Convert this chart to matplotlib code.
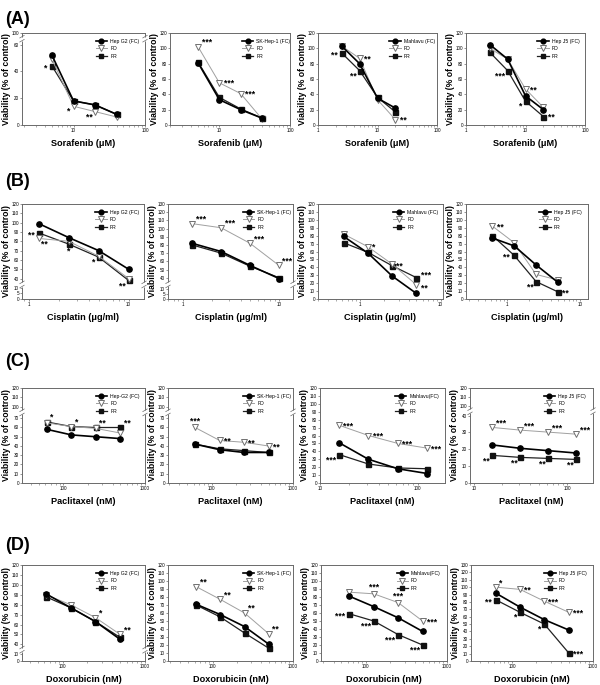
import numpy as np
import matplotlib
matplotlib.use('Agg')
import matplotlib.pyplot as plt
from matplotlib.lines import Line2D
from matplotlib.ticker import FixedLocator, FixedFormatter, LogLocator, NullFormatter

plt.rcParams['font.family'] = ['Liberation Sans', 'DejaVu Sans']

# ---------------- DATA ----------------
row_tags = ['(A)', '(B)', '(C)', '(D)']
drug_labels = ['Sorafenib (μM)', 'Cisplatin (μg/ml)', 'Paclitaxel (nM)', 'Doxorubicin (nM)']
series_names = ['FC', 'FD', 'FR']

legend_A = ['Hep G2 (FC)', 'SK-Hep-1 (FC)', 'Mahlavu (FC)', 'Hep J5 (FC)']
legend_B = ['Hep G2 (FC)', 'SK-Hep-1 (FC)', 'Mahlavu (FC)', 'Hep J5 (FC)']
legend_C = ['Hep-G2 (FC)', 'SK-Hep-1 (FC)', 'Mahlavu(FC)', 'Hep J5 (FC)']
legend_D = ['Hep G2 (FC)', 'SK-Hep-1 (FC)', 'Mahlavu(FC)', 'Hep J5 (FC)']

# Sorafenib
sor_doses_hepg2 = [5, 10, 20, 40]
sor_doses_skhep1 = [5, 10, 20, 40]
sor_doses_mahlavu = [2.5, 5, 10, 20]
sor_doses_hepj5 = [2.5, 5, 10, 20]
sor_hepg2_fc = [52, 18, 15, 8]
sor_hepg2_fd = [49, 14, 10, 6]
sor_hepg2_fr = [44, 18, 15, 8]
sor_skhep1_fc = [81, 33, 20, 9]
sor_skhep1_fd = [102, 55, 41, 8]
sor_skhep1_fr = [82, 36, 21, 9]
sor_mahlavu_fc = [103, 80, 35, 22]
sor_mahlavu_fd = [103, 87, 33, 7]
sor_mahlavu_fr = [94, 71, 36, 17]
sor_hepj5_fc = [105, 86, 38, 20]
sor_hepj5_fd = [100, 86, 47, 23]
sor_hepj5_fr = [95, 71, 31, 11]

# Cisplatin
cis_doses_hepg2 = [1.25, 2.5, 5, 10]
cis_doses_skhep1 = [1.25, 2.5, 5, 10]
cis_doses_mahlavu = [0.625, 1.25, 2.5, 5]
cis_doses_hepj5 = [0.625, 1.25, 2.5, 5]
cis_hepg2_fc = [99, 84, 70, 50]
cis_hepg2_fd = [83, 80, 64, 40]
cis_hepg2_fr = [89, 77, 63, 38]
cis_skhep1_fc = [82, 72, 55, 39]
cis_skhep1_fd = [106, 101, 82, 55]
cis_skhep1_fr = [80, 70, 54, 40]
cis_mahlavu_fc = [79, 58, 29, 7]
cis_mahlavu_fd = [82, 66, 44, 18]
cis_mahlavu_fr = [71, 59, 42, 27]
cis_hepj5_fc = [77, 67, 43, 21]
cis_hepj5_fd = [92, 71, 31, 24]
cis_hepj5_fr = [80, 55, 22, 9]

# Paclitaxel
pac_doses_hepg2 = [62.5, 125, 250, 500]
pac_doses_skhep1 = [62.5, 125, 250, 500]
pac_doses_mahlavu = [15.625, 31.25, 62.5, 125]
pac_doses_hepj5 = [15.625, 31.25, 62.5, 125]
pac_hepg2_fc = [58, 52, 50, 48]
pac_hepg2_fd = [65, 61, 59, 54]
pac_hepg2_fr = [66, 61, 60, 60]
pac_skhep1_fc = [42, 36, 33, 33]
pac_skhep1_fd = [60, 46, 44, 40]
pac_skhep1_fr = [42, 37, 35, 33]
pac_mahlavu_fc = [51, 30, 18, 12]
pac_mahlavu_fd = [73, 60, 50, 44]
pac_mahlavu_fr = [36, 24, 19, 18]
pac_hepj5_fc = [22.6, 20.6, 19.2, 17.8]
pac_hepj5_fd = [33, 31.4, 30.2, 29]
pac_hepj5_fr = [16.4, 15.2, 14.6, 14]

# Doxorubicin
dox_doses_hepg2 = [62.5, 125, 250, 500]
dox_doses_skhep1 = [62.5, 125, 250, 500]
dox_doses_mahlavu = [62.5, 125, 250, 500]
dox_doses_hepj5 = [62.5, 125, 250, 500]
dox_hepg2_fc = [91, 77, 63, 45]
dox_hepg2_fd = [90, 80, 67, 50]
dox_hepg2_fr = [88, 77, 63, 47]
dox_skhep1_fc = [71, 58, 43, 21]
dox_skhep1_fd = [93, 77, 60, 34]
dox_skhep1_fr = [70, 55, 35, 16]
dox_mahlavu_fc = [81, 68, 54, 37]
dox_mahlavu_fd = [86, 84, 73, 50]
dox_mahlavu_fr = [59, 50, 33, 20]
dox_hepj5_fc = [92, 73, 56, 42]
dox_hepj5_fd = [100, 97, 81, 66]
dox_hepj5_fr = [83, 66, 50, 11]

# y tick labels per panel
yt_0_100_brk = [0, 20, 40, 60, 100]
yt_0_120_20 = [0, 20, 40, 60, 80, 100, 120]
yt_cis_brk120 = [0, 5, 10, 40, 50, 60, 70, 80, 90, 100, 110, 120]
yt_cis_brk130 = [0, 5, 10, 40, 50, 60, 70, 80, 90, 100, 110, 120, 130]
yt_0_120_10 = [0, 10, 20, 30, 40, 50, 60, 70, 80, 90, 100, 110, 120]
yt_0_130_10 = [0, 10, 20, 30, 40, 50, 60, 70, 80, 90, 100, 110, 120, 130]
yt_pac_brk70 = [0, 10, 20, 30, 40, 50, 60, 70, 100, 110, 120]
yt_pac_brk40 = [0, 10, 20, 30, 40, 100, 110, 120]
yt_dox_brk = [0, 10, 40, 50, 60, 70, 80, 90, 100, 110, 120]
xt_major = [1, 10, 100, 1000]

# significance marks: (series, dose index, text, side)
sig = {
    (0, 0): [('FR', 0, '*', 'l'), ('FD', 1, '*', 'bl'), ('FD', 2, '**', 'bl')],
    (0, 1): [('FD', 0, '***', 'ar'), ('FD', 1, '***', 'r'), ('FD', 2, '***', 'r')],
    (0, 2): [('FR', 0, '**', 'l'), ('FD', 1, '**', 'r'), ('FR', 1, '**', 'bl'), ('FD', 3, '**', 'r')],
    (0, 3): [('FR', 1, '***', 'bl'), ('FD', 2, '**', 'r'), ('FR', 2, '*', 'bl'), ('FR', 3, '**', 'r')],
    (1, 0): [('FR', 0, '**', 'l'), ('FD', 0, '**', 'br'), ('FR', 1, '*', 'b'), ('FR', 2, '*', 'bl'), ('FR', 3, '**', 'bl')],
    (1, 1): [('FD', 0, '***', 'ar'), ('FD', 1, '***', 'ar'), ('FD', 2, '***', 'ar'), ('FD', 3, '***', 'ar')],
    (1, 2): [('FD', 1, '*', 'r'), ('FR', 2, '**', 'r'), ('FR', 3, '***', 'ru'), ('FD', 3, '**', 'rd')],
    (1, 3): [('FD', 0, '**', 'r'), ('FR', 1, '**', 'l'), ('FR', 2, '**', 'bl'), ('FR', 3, '**', 'r')],
    (2, 0): [('FR', 0, '*', 'ar'), ('FR', 1, '*', 'ar'), ('FR', 2, '**', 'ar'), ('FR', 3, '**', 'ar')],
    (2, 1): [('FD', 0, '***', 'a'), ('FD', 1, '**', 'r'), ('FD', 2, '**', 'r'), ('FD', 3, '**', 'r')],
    (2, 2): [('FD', 0, '***', 'r'), ('FD', 1, '***', 'r'), ('FD', 2, '***', 'r'), ('FD', 3, '***', 'r'), ('FR', 0, '***', 'bl')],
    (2, 3): [('FD', 0, '***', 'ar'), ('FD', 1, '***', 'ar'), ('FD', 2, '***', 'ar'), ('FD', 3, '***', 'ar'),
             ('FR', 0, '**', 'bl'), ('FR', 1, '**', 'bl'), ('FR', 2, '**', 'bl'), ('FR', 3, '**', 'bl')],
    (3, 0): [('FD', 2, '*', 'ar'), ('FD', 3, '**', 'ar')],
    (3, 1): [('FD', 0, '**', 'ar'), ('FD', 1, '**', 'ar'), ('FD', 2, '**', 'ar'), ('FD', 3, '**', 'ar')],
    (3, 2): [('FD', 1, '***', 'a'), ('FD', 2, '***', 'a'), ('FD', 3, '***', 'r'),
             ('FR', 0, '***', 'l'), ('FR', 1, '***', 'bl'), ('FR', 2, '***', 'bl'), ('FR', 3, '***', 'bl')],
    (3, 3): [('FD', 0, '*', 'ar'), ('FD', 1, '**', 'r'), ('FD', 2, '***', 'r'), ('FD', 3, '***', 'r'),
             ('FR', 0, '**', 'l'), ('FR', 1, '*', 'bl'), ('FR', 2, '*', 'bl'), ('FR', 3, '***', 'r')],
}

# ---------------- PANEL CONFIG ----------------
panels = {
    (0, 0): dict(x=sor_doses_hepg2, fc=sor_hepg2_fc, fd=sor_hepg2_fd, fr=sor_hepg2_fr, yt=yt_0_100_brk, ylim=(0, 100),
                 brk=([0, 63, 97, 100], [0, 63, 66, 68.75]), brky=80, xlim=(1.9, 100)),
    (0, 1): dict(x=sor_doses_skhep1, fc=sor_skhep1_fc, fd=sor_skhep1_fd, fr=sor_skhep1_fr, yt=yt_0_120_20, ylim=(0, 120),
                 brk=None, xlim=(2, 100)),
    (0, 2): dict(x=sor_doses_mahlavu, fc=sor_mahlavu_fc, fd=sor_mahlavu_fd, fr=sor_mahlavu_fr, yt=yt_0_120_20, ylim=(0, 120),
                 brk=None, xlim=(1, 100)),
    (0, 3): dict(x=sor_doses_hepj5, fc=sor_hepj5_fc, fd=sor_hepj5_fd, fr=sor_hepj5_fr, yt=yt_0_120_20, ylim=(0, 120),
                 brk=None, xlim=(1, 100)),
    (1, 0): dict(x=cis_doses_hepg2, fc=cis_hepg2_fc, fd=cis_hepg2_fd, fr=cis_hepg2_fr, yt=yt_cis_brk120, ylim=(0, 120),
                 brk=([0, 10, 37, 120], [0, 12, 19, 102]), brky=24, xlim=(0.85, 14.3)),
    (1, 1): dict(x=cis_doses_skhep1, fc=cis_skhep1_fc, fd=cis_skhep1_fd, fr=cis_skhep1_fr, yt=yt_cis_brk130, ylim=(0, 130),
                 brk=([0, 10, 37, 130], [0, 12.5, 23, 116]), brky=24, xlim=(0.7, 14)),
    (1, 2): dict(x=cis_doses_mahlavu, fc=cis_mahlavu_fc, fd=cis_mahlavu_fd, fr=cis_mahlavu_fr, yt=yt_0_120_10, ylim=(0, 120),
                 brk=None, xlim=(0.3, 10.7)),
    (1, 3): dict(x=cis_doses_hepj5, fc=cis_hepj5_fc, fd=cis_hepj5_fd, fr=cis_hepj5_fr, yt=yt_0_120_10, ylim=(0, 120),
                 brk=None, xlim=(0.27, 13)),
    (2, 0): dict(x=pac_doses_hepg2, fc=pac_hepg2_fc, fd=pac_hepg2_fd, fr=pac_hepg2_fr, yt=yt_pac_brk70, ylim=(0, 120),
                 brk=([0, 75, 95, 120], [0, 75, 77.7, 102.7]), brky=85, xlim=(31, 1000)),
    (2, 1): dict(x=pac_doses_skhep1, fc=pac_skhep1_fc, fd=pac_skhep1_fd, fr=pac_skhep1_fr, yt=yt_pac_brk70, ylim=(0, 120),
                 brk=([0, 75, 95, 120], [0, 75, 77.7, 102.7]), brky=85, xlim=(29, 1000)),
    (2, 2): dict(x=pac_doses_mahlavu, fc=pac_mahlavu_fc, fd=pac_mahlavu_fd, fr=pac_mahlavu_fr, yt=yt_0_120_10, ylim=(0, 120),
                 brk=None, xlim=(10, 190)),
    (2, 3): dict(x=pac_doses_hepj5, fc=pac_hepj5_fc, fd=pac_hepj5_fd, fr=pac_hepj5_fr, yt=yt_pac_brk40, ylim=(0, 120),
                 brk=([0, 41, 99, 120], [0, 41, 45.06, 56.4]), brky=64, xlim=(9, 190)),
    (3, 0): dict(x=dox_doses_hepg2, fc=dox_hepg2_fc, fd=dox_hepg2_fd, fr=dox_hepg2_fr, yt=yt_dox_brk, ylim=(0, 120),
                 brk=([0, 10, 37, 120], [0, 7, 13.7, 96.7]), brky=28, xlim=(32, 1000)),
    (3, 1): dict(x=dox_doses_skhep1, fc=dox_skhep1_fc, fd=dox_skhep1_fd, fr=dox_skhep1_fr, yt=yt_0_120_10, ylim=(0, 120),
                 brk=None, xlim=(28, 1000)),
    (3, 2): dict(x=dox_doses_mahlavu, fc=dox_mahlavu_fc, fd=dox_mahlavu_fd, fr=dox_mahlavu_fr, yt=yt_0_120_10, ylim=(0, 120),
                 brk=None, xlim=(28, 1000)),
    (3, 3): dict(x=dox_doses_hepj5, fc=dox_hepj5_fc, fd=dox_hepj5_fd, fr=dox_hepj5_fr, yt=yt_0_130_10, ylim=(0, 130),
                 brk=None, xlim=(31, 1000)),
}
legends = [legend_A, legend_B, legend_C, legend_D]

# ---------------- LAYOUT (pixels) ----------------
W, H = 600, 685
rows_x = [
    [(22, 145), (170, 290), (318, 437), (466, 585)],
    [(22, 144), (168, 293), (318, 443), (466, 588)],
    [(22, 145), (168, 293), (320, 445), (470, 593)],
    [(22, 145), (168, 293), (321, 447), (471, 593)],
]
rows_y = [(33, 125), (204, 299), (388, 483), (565, 661)]
tag_y = [19, 182, 362, 545]

styles = {
    'FC': dict(color='black', marker='o', ms=3.8, lw=1.2, mfc='black', mec='black', zorder=4),
    'FD': dict(color='#a0a0a0', marker='v', ms=4.2, lw=0.7, mfc='white', mec='#707070', mew=0.7, zorder=3),
    'FR': dict(color='#222222', marker='s', ms=3.6, lw=0.9, mfc='#111111', mec='#111111', zorder=2),
}
offs = {
    'r': (3, -0.5, 'left', 'center'),
    'ru': (3, 1.5, 'left', 'center'),
    'rd': (3, -2.5, 'left', 'center'),
    'ar': (2.5, 0, 'left', 'bottom'),
    'l': (-3, -1.5, 'right', 'center'),
    'bl': (-2, -0.5, 'right', 'top'),
    'b': (0, -2, 'center', 'top'),
    'br': (2, -0.5, 'left', 'top'),
    'a': (0, 1.5, 'center', 'bottom'),
    'al': (-1, 1.5, 'right', 'bottom'),
}


def piecewise(ys, ts):
    ys = np.asarray(ys, float)
    ts = np.asarray(ts, float)

    def f(a, b, v):
        v = np.asarray(v, float)
        out = np.interp(v, a, b)
        s0 = (b[1] - b[0]) / (a[1] - a[0])
        s1 = (b[-1] - b[-2]) / (a[-1] - a[-2])
        out = np.where(v < a[0], b[0] + (v - a[0]) * s0, out)
        out = np.where(v > a[-1], b[-1] + (v - a[-1]) * s1, out)
        return out
    return (lambda v: f(ys, ts, v)), (lambda v: f(ts, ys, v))


fig = plt.figure(figsize=(W / 100, H / 100), dpi=100)
spine_c = '#6a6a6a'

for r in range(4):
    fig.text(5 / W, 1 - tag_y[r] / H, row_tags[r], fontsize=13, fontweight='bold', va='center', ha='left')
    top, bot = rows_y[r]
    for c in range(4):
        L, R = rows_x[r][c]
        ax = fig.add_axes([L / W, 1 - bot / H, (R - L) / W, (bot - top) / H])
        p = panels[(r, c)]
        ax.set_xscale('log')
        fwd = None
        if p['brk'] is not None:
            fwd, inv = piecewise(*p['brk'])
            ax.set_yscale('function', functions=(fwd, inv))
        data = {'FC': p['fc'], 'FD': p['fd'], 'FR': p['fr']}
        for s in ['FR', 'FD', 'FC']:
            ax.plot(p['x'], data[s], clip_on=False, **styles[s])
        ax.set_xlim(*p['xlim'])
        ax.set_ylim(*p['ylim'])
        ax.yaxis.set_major_locator(FixedLocator(p['yt']))
        ax.yaxis.set_major_formatter(FixedFormatter([str(v) for v in p['yt']]))
        ax.xaxis.set_major_locator(FixedLocator(xt_major))
        ax.xaxis.set_major_formatter(FixedFormatter([str(v) for v in xt_major]))
        ax.xaxis.set_minor_locator(LogLocator(base=10, subs=np.arange(2, 10), numticks=20))
        ax.xaxis.set_minor_formatter(NullFormatter())
        ax.tick_params(axis='both', which='major', labelsize=3.3, length=1.5, width=0.5, pad=0.7, colors=spine_c,
                       labelcolor='black', direction='out')
        ax.tick_params(axis='x', which='minor', length=1.1, width=0.4, colors=spine_c)
        ax.tick_params(top=False, right=False)
        for sp in ax.spines.values():
            sp.set_color(spine_c)
            sp.set_linewidth(0.7)
        ax.set_xlabel(drug_labels[r], fontsize=6.6, fontweight='bold', labelpad=4)
        ax.set_ylabel('Viability (% of control)', fontsize=6.2, fontweight='bold', labelpad=0.4)

        # significance
        for (s, i, txt, side) in sig[(r, c)]:
            dx, dy, ha, va = offs[side]
            ax.annotate(txt, (p['x'][i], data[s][i]), xytext=(dx, dy), textcoords='offset points',
                        ha=ha, va=va, fontsize=6.2, fontweight='bold', zorder=6)

        # axis break marks
        if p['brk'] is not None:
            t0, t1 = fwd(p['ylim'][0]), fwd(p['ylim'][1])
            f = float((fwd(p['brky']) - t0) / (t1 - t0))
            g = 0.022
            for xx in (0, 1):
                ax.plot([xx, xx], [f - g, f + g], transform=ax.transAxes, color='white', lw=2.2,
                        clip_on=False, zorder=7, solid_capstyle='butt')
                for d in (-g, g):
                    ax.plot([xx - 0.018, xx + 0.018], [f + d - 0.014, f + d + 0.014], transform=ax.transAxes,
                            color=spine_c, lw=0.5, clip_on=False, zorder=8)

        # legend
        handles = [Line2D([], [], **{k: v for k, v in styles[s].items() if k != 'zorder'}) for s in series_names]
        labels = [legends[r][c], 'FD', 'FR']
        ax.legend(handles, labels, loc='upper left', bbox_to_anchor=(0.6, 0.94), fontsize=3.7, frameon=False,
                  handlelength=2.2, handletextpad=0.6, labelspacing=0.5, borderpad=0, borderaxespad=0,
                  markerscale=0.9)

fig.savefig('out.png', dpi=100)
